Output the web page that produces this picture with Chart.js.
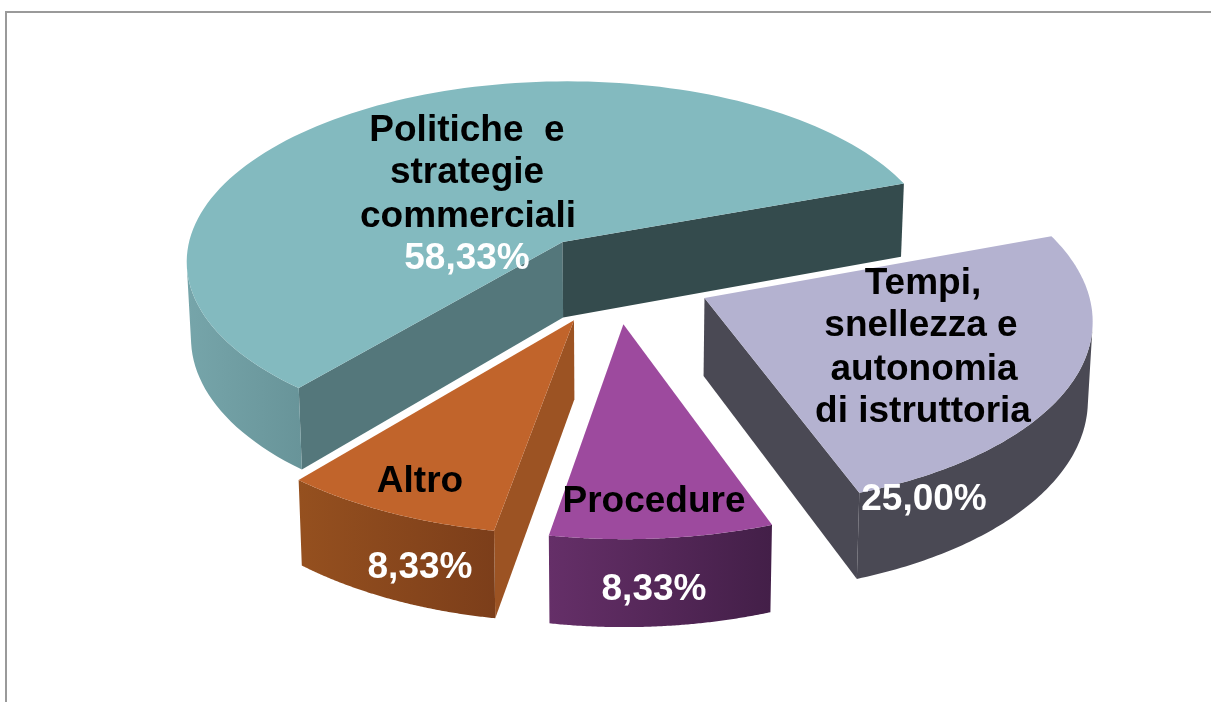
<!DOCTYPE html>
<html>
<head>
<meta charset="utf-8">
<style>html,body{margin:0;padding:0;background:#fff;overflow:hidden}canvas{display:block}</style>
<script src="https://cdn.jsdelivr.net/npm/chart.js@4"></script>
</head>
<body>
<canvas id="c" width="1211" height="702"></canvas>
<script>
const categories = ['Politiche  e strategie commerciali', 'Tempi, snellezza e autonomia di istruttoria', 'Procedure', 'Altro'];
const shares = [58.33, 25.00, 8.33, 8.33];

const topColors = ['#83babf', '#b4b2d0', '#9d4a9e', '#c1642b'];
const wallColors = [['#76a5aa', '#689499'], ['#4a4954', '#4a4954'], ['#652f68', '#431f48'], ['#95501f', '#7c3e1a']];
const startWallColors = ['#54777b', '#4a4954', '#431f48', '#9c5323'];
const endWallColors = ['#344b4d', '#4a4954', '#652f68', '#9c5323'];
const labelLines = [
  [['Politiche  e', 467, 141], ['strategie', 467, 183], ['commerciali', 468, 227]],
  [['Tempi,', 923, 294], ['snellezza e', 921, 336], ['autonomia', 924, 380], ['di istruttoria', 923, 422]],
  [['Procedure', 654, 512]],
  [['Altro', 420, 492]]
];
const valuePos = [[467, 269], [924, 510], [654, 600], [420, 578]];
const explodeOffsets = [232, 243, 234, 236];

const VIEW = {cx: 615, cy: 278, ax: 381, ay: 183.5, persp: -0.1, depth: 77, baseShrink: 0.99};

function project(u, v, bottom) {
  const w = 1 + VIEW.persp * v;
  let x = VIEW.ax * u / w, y = VIEW.cy + VIEW.ay * v / w;
  if (bottom) { x *= VIEW.baseShrink; y += VIEW.depth / w; }
  return [VIEW.cx + x, y];
}

function signedArea(pts) {
  let a = 0;
  pts.forEach((p, n) => {
    const q = pts[(n + 1) % pts.length];
    a += p[0] * q[1] - q[0] * p[1];
  });
  return a;
}

const pie3d = {
  id: 'pie3d',
  beforeDatasetDraw(chart) {
    const ctx = chart.ctx;
    const meta = chart.getDatasetMeta(0);
    meta.data.forEach((arc, i) => {
      const s = arc.startAngle, e = arc.endAngle, mid = (s + e) / 2;
      const o = arc.options.offset / 4 / arc.outerRadius;
      const ou = o * Math.cos(mid), ov = o * Math.sin(mid);
      const rim = [];
      const steps = 120;
      for (let k = 0; k <= steps; k++) {
        const a = s + (e - s) * k / steps;
        rim.push([ou + Math.cos(a), ov + Math.sin(a)]);
      }
      const trace = pts => {
        pts.forEach((p, n) => n ? ctx.lineTo(p[0], p[1]) : ctx.moveTo(p[0], p[1]));
        ctx.closePath();
      };
      const poly = (pts, fill) => {
        ctx.beginPath();
        trace(pts);
        ctx.fillStyle = fill;
        ctx.fill();
      };
      const topRim = rim.map(p => project(p[0], p[1], false));
      const botRim = rim.map(p => project(p[0], p[1], true));
      const apexT = project(ou, ov, false), apexB = project(ou, ov, true);
      // radial walls, only where they face the viewer
      if (Math.cos(s) < 0) poly([apexT, topRim[0], botRim[0], apexB], startWallColors[i]);
      if (Math.cos(e) > 0) poly([apexT, topRim[steps], botRim[steps], apexB], endWallColors[i]);
      // curved wall: the viewer-facing quads, filled together as one path so no seams show
      const quads = [];
      for (let k = 0; k < steps; k++) {
        const q = [topRim[k], topRim[k + 1], botRim[k + 1], botRim[k]];
        if (signedArea(q) < 0) quads.push(q);
      }
      if (quads.length) {
        const xs = quads.flat().map(p => p[0]);
        const g = ctx.createLinearGradient(Math.min(...xs), 0, Math.max(...xs), 0);
        g.addColorStop(0, wallColors[i][0]);
        g.addColorStop(1, wallColors[i][1]);
        ctx.beginPath();
        quads.forEach(trace);
        ctx.fillStyle = g;
        ctx.fill();
      }
      // top face
      poly([apexT].concat(topRim), topColors[i]);
    });
    return false;
  },
  afterDraw(chart) {
    const ctx = chart.ctx;
    ctx.save();
    ctx.fillStyle = '#9a9a9a';
    ctx.fillRect(5, 11, 1206, 2);
    ctx.fillRect(5, 11, 2, 691);
    ctx.font = 'bold 37px "Liberation Sans", Arial, sans-serif';
    ctx.textAlign = 'center';
    ctx.textBaseline = 'alphabetic';
    labelLines.forEach((lines, i) => {
      ctx.fillStyle = '#000000';
      lines.forEach(l => ctx.fillText(l[0], l[1], l[2]));
      ctx.fillStyle = '#ffffff';
      ctx.fillText(shares[i].toFixed(2).replace('.', ',') + '%', valuePos[i][0], valuePos[i][1]);
    });
    ctx.restore();
  }
};

new Chart(document.getElementById('c'), {
  type: 'pie',
  data: {
    labels: categories,
    datasets: [{data: shares, backgroundColor: topColors, borderWidth: 0, offset: explodeOffsets}]
  },
  options: {
    responsive: false,
    animation: false,
    rotation: 220,
    radius: 237,
    plugins: {legend: {display: false}, tooltip: {enabled: false}}
  },
  plugins: [pie3d]
});
</script>
</body>
</html>
